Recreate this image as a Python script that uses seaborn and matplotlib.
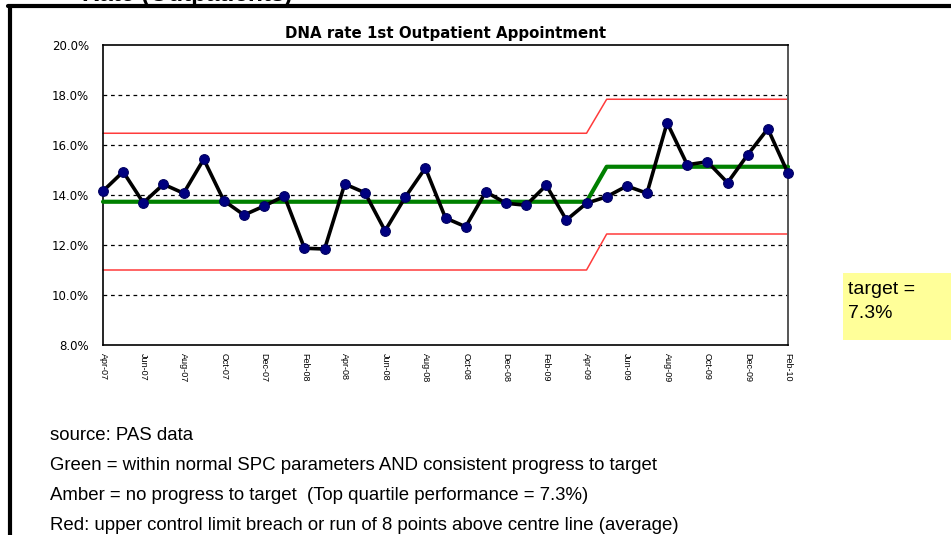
import matplotlib
matplotlib.use("Agg")
import matplotlib.pyplot as plt
import seaborn as sns
import pandas as pd
from matplotlib.lines import Line2D
from matplotlib.patches import Rectangle
from matplotlib.ticker import FuncFormatter

months = ["Apr-07", "May-07", "Jun-07", "Jul-07", "Aug-07", "Sep-07", "Oct-07", "Nov-07",
          "Dec-07", "Jan-08", "Feb-08", "Mar-08", "Apr-08", "May-08", "Jun-08", "Jul-08",
          "Aug-08", "Sep-08", "Oct-08", "Nov-08", "Dec-08", "Jan-09", "Feb-09", "Mar-09",
          "Apr-09", "May-09", "Jun-09", "Jul-09", "Aug-09", "Sep-09", "Oct-09", "Nov-09",
          "Dec-09", "Jan-10", "Feb-10"]
dna_rate = [14.16, 14.93, 13.69, 14.43, 14.07, 15.43, 13.77, 13.20, 13.56, 13.96,
            11.87, 11.84, 14.44, 14.09, 12.57, 13.91, 15.08, 13.08, 12.73, 14.13,
            13.67, 13.59, 14.39, 13.00, 13.67, 13.93, 14.36, 14.07, 16.89, 15.21,
            15.33, 14.49, 15.61, 16.65, 14.87]
centre_line = [13.73] * 25 + [15.13] * 10
upper_limit = [16.47] * 25 + [17.83] * 10
lower_limit = [11.00] * 25 + [12.44] * 10
tick_labels = months[::2]
y_ticks = [8, 10, 12, 14, 16, 18, 20]

df = pd.DataFrame({"idx": range(len(months)), "month": months, "rate": dna_rate,
                   "centre": centre_line, "upper": upper_limit, "lower": lower_limit})

sns.set_theme(style="white")
plt.rcParams["font.family"] = ["DejaVu Sans"]
plt.rcParams["text.color"] = "black"
plt.rcParams["xtick.color"] = "black"
plt.rcParams["ytick.color"] = "black"

W, H = 951, 535
fig = plt.figure(figsize=(W / 100, H / 100), dpi=100)
fig.patch.set_facecolor("white")
ax = fig.add_axes([103 / W, 1 - 345 / H, 685 / W, 300 / H])

for g in [10, 12, 14, 16, 18]:
    ax.axhline(g, color="black", lw=0.9, ls=(0, (3, 3)), zorder=1)

sns.lineplot(data=df, x="idx", y="upper", ax=ax, color="#ff3b3b", lw=1.1, zorder=2)
sns.lineplot(data=df, x="idx", y="lower", ax=ax, color="#ff3b3b", lw=1.1, zorder=2)
sns.lineplot(data=df, x="idx", y="centre", ax=ax, color="#008000", lw=3, zorder=3)
sns.lineplot(data=df, x="idx", y="rate", ax=ax, color="black", lw=2.6, zorder=4,
             marker="o", markersize=7, markerfacecolor="#000080",
             markeredgecolor="#000060", markeredgewidth=0.8)
for ln in ax.lines:
    ln.set_clip_on(False)

ax.set_xlim(0, len(months) - 1)
ax.set_ylim(8, 20)
ax.set_yticks(y_ticks)
ax.yaxis.set_major_formatter(FuncFormatter(lambda v, p: f"{v:.1f}%"))
ax.set_xticks(range(0, len(months), 2))
ax.set_xticklabels(tick_labels, rotation=-90, fontsize=6.5, family=["Liberation Sans"])
ax.tick_params(axis="y", length=0, pad=10, labelsize=8.5, labelcolor="black")
ax.tick_params(axis="x", length=0, pad=6, labelcolor="black")
for lab in ax.get_xticklabels():
    lab.set_va("top")
    lab.set_ha("center")
ax.set_xlabel("")
ax.set_ylabel("")
ax.grid(False)
for side in ["left", "top", "bottom"]:
    ax.spines[side].set_color("black")
    ax.spines[side].set_linewidth(1.2)
ax.spines["right"].set_color("#555555")
ax.spines["right"].set_linewidth(1.4)

ax.set_title("DNA rate 1st Outpatient Appointment", fontsize=10.8, fontweight="bold",
             pad=5, color="black")

# cut-off heading at top of the slide
fig.text(293 / W, 1 - 0.5 / H, "Rate (Outpatients)", ha="right", va="baseline",
         fontsize=17.5, fontweight="bold", family=["Liberation Sans"], color="black",
         zorder=1)

# frame
fig.add_artist(Rectangle((0, 1 - 9 / H), 1, 3 / H, facecolor="white", edgecolor="none",
                         transform=fig.transFigure, zorder=5))
fig.add_artist(Line2D([8 / W, 1], [1 - 5.5 / H, 1 - 5.5 / H], color="black", lw=3,
                      transform=fig.transFigure, zorder=10))
fig.add_artist(Line2D([10 / W, 10 / W], [0, 1 - 5.5 / H], color="black", lw=3,
                      transform=fig.transFigure, zorder=10))

# target box
fig.add_artist(Rectangle((843 / W, 1 - 340 / H), (W - 843) / W, 67 / H,
                         facecolor="#ffff99", edgecolor="none",
                         transform=fig.transFigure))
fig.text(848 / W, 1 - 289 / H, "target =", ha="left", va="center", fontsize=14,
         family=["Liberation Sans"], color="black")
fig.text(848 / W, 1 - 313 / H, "7.3%", ha="left", va="center", fontsize=14,
         family=["Liberation Sans"], color="black")

notes = ["source: PAS data",
         "Green = within normal SPC parameters AND consistent progress to target",
         "Amber = no progress to target  (Top quartile performance = 7.3%)",
         "Red: upper control limit breach or run of 8 points above centre line (average)"]
for i, t in enumerate(notes):
    fig.text(50 / W, 1 - (435 + 30 * i) / H, t, ha="left", va="center", fontsize=13.4,
             family=["Liberation Sans"], color="black")

fig.savefig("out.png", dpi=100)
